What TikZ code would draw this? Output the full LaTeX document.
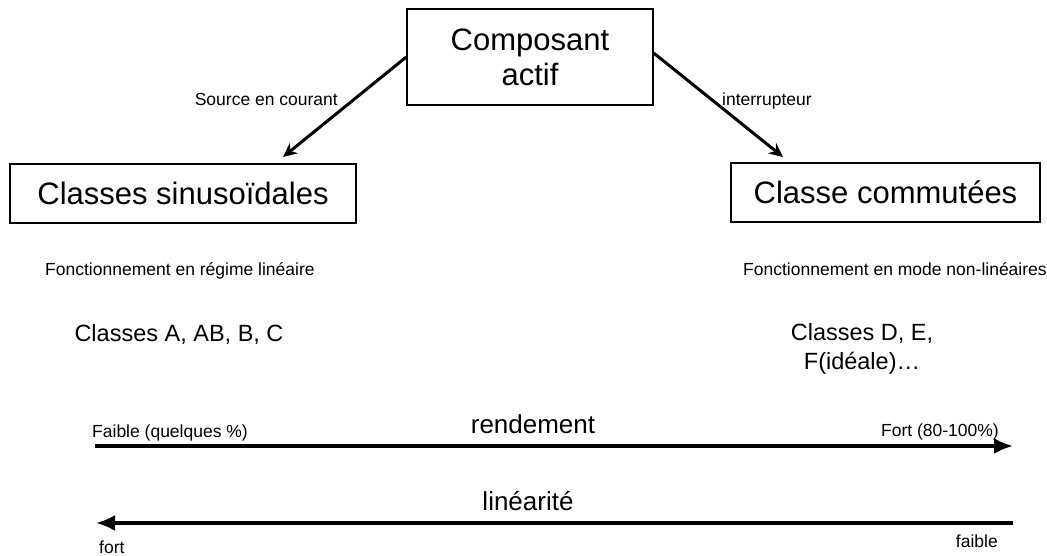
\documentclass[tikz,border=0pt]{standalone}
\usepackage{fontspec}
\setmainfont{Liberation Sans}
\usetikzlibrary{arrows.meta}
\begin{document}
\begin{tikzpicture}[x=1pt,y=-1pt,
  bigbox/.style={draw,line width=1.4pt,inner sep=0pt,align=center,font=\fontsize{31}{35}\selectfont},
  small/.style={inner sep=0pt,font=\fontsize{17.5}{20}\selectfont},
  mid/.style={inner sep=0pt,align=center,font=\fontsize{23.5}{29}\selectfont},
  axislabel/.style={inner sep=0pt,font=\fontsize{26}{30}\selectfont},
  conn/.style={line width=3pt,-{Stealth[length=14pt,width=13pt]}},
  axisline/.style={line width=3.2pt,-{Latex[length=19pt,width=16pt]}}]
\useasboundingbox[fill=white] (0,0) rectangle (1047,555);
% boxes
\node[bigbox,minimum width=246pt,minimum height=96pt] (comp) at (530,57) {Composant\\actif};
\node[bigbox,minimum width=346pt,minimum height=59pt] (sin) at (183,193.5) {Classes sinusoïdales};
\node[bigbox,minimum width=309pt,minimum height=59pt] (comm) at (885.5,192.5) {Classe commutées};
% connectors
\coordinate (tipL) at (283,157);
\coordinate (tipR) at (783,157);
\draw[conn] (comp.west) -- (tipL);
\draw[conn] ([yshift=4pt]comp.east) -- (tipR);
\node[small,anchor=base east] (lsrc) at (338,105) {Source en courant};
\node[small,anchor=base west] (lint) at (722,105) {interrupteur};
% descriptions
\node[small,anchor=base west] (fl) at (45,275) {Fonctionnement en régime linéaire};
\node[small,anchor=base west] (fnl) at (743,275) {Fonctionnement en mode non-linéaires};
\node[mid,anchor=base] (cl) at (179,341) {Classes A, AB, B, C};
\node[mid,anchor=base] (cnl) at (862,369) {Classes D, E,\\F(idéale)…};
% scales
\coordinate (rL) at (95,446);
\coordinate (rR) at (1013,446);
\coordinate (lR) at (1013,523);
\coordinate (lL) at (96,523);
\draw[axisline] (rL) -- (rR);
\draw[axisline] (lR) -- (lL);
\node[axislabel,anchor=base] (rend) at (533,433) {rendement};
\node[axislabel,anchor=base] (lin) at (528,510) {linéarité};
\node[small,anchor=base west] (faible1) at (92,437) {Faible (quelques \%)};
\node[small,anchor=base east] (fort1) at (999,436) {Fort (80-100\%)};
\node[small,anchor=base west] (fort2) at (99,553) {fort};
\node[small,anchor=base east] (faible2) at (998,547) {faible};
\end{tikzpicture}
\end{document}
